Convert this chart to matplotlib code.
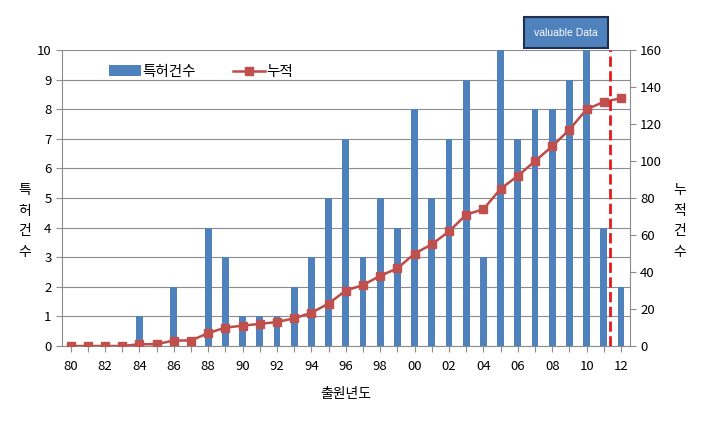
import matplotlib.pyplot as plt
import numpy as np

plt.rcParams['font.family'] = ['Noto Sans CJK KR', 'DejaVu Sans']

years = ['80', '81', '82', '83', '84', '85', '86', '87', '88', '89', '90', '91', '92', '93', '94', '95', '96',
         '97', '98', '99', '00', '01', '02', '03', '04', '05', '06', '07', '08', '09', '10', '11', '12']
patents = [0, 0, 0, 0, 1, 0, 2, 0, 4, 3, 1, 1, 1, 2, 3, 5, 7,
           3, 5, 4, 8, 5, 7, 9, 3, 11, 7, 8, 8, 9, 11, 4, 2]
cumulative = [0, 0, 0, 0, 1, 1, 3, 3, 7, 10, 11, 12, 13, 15, 18, 23, 30,
              33, 38, 42, 50, 55, 62, 71, 74, 85, 92, 100, 108, 117, 128, 132, 134]

bar_color = '#4F81BD'
line_color = '#BE4B48'

fig = plt.figure(figsize=(7.06, 4.21), dpi=100)
ax = fig.add_axes([0.0878, 0.178, 0.804, 0.703])
x = np.arange(len(years))

ax.bar(x, patents, width=0.4, color=bar_color, zorder=2, label='특허건수')
ax.set_ylim(0, 10)
ax.set_xlim(-0.5, len(years) - 0.5)
ax.set_yticks(range(0, 11))
ax.yaxis.grid(True, color='#8c8c8c', linewidth=0.8, zorder=0)
ax.set_axisbelow(True)
ax.set_xticks(x)
ax.set_xticklabels([y if i % 2 == 0 else '' for i, y in enumerate(years)])
ax.tick_params(axis='x', length=4, color='#8c8c8c', labelsize=9.5, pad=6)
ax.tick_params(axis='y', length=4, color='#8c8c8c', labelsize=9.5)
for s in ['top', 'right']:
    ax.spines[s].set_visible(False)
ax.spines['left'].set_color('#8c8c8c')
ax.spines['bottom'].set_color('#8c8c8c')

ax2 = ax.twinx()
ax2.plot(x, cumulative, color=line_color, marker='s', markersize=5.5, markerfacecolor='#C0504D',
         markeredgecolor='#C0504D', linewidth=1.8, label='누적', zorder=3)
ax2.set_ylim(0, 160)
ax2.set_yticks(range(0, 161, 20))
ax2.tick_params(axis='y', length=4, color='#8c8c8c', labelsize=9.5)
for s in ['top', 'left', 'bottom']:
    ax2.spines[s].set_visible(False)
ax2.spines['right'].set_color('#8c8c8c')

# cut-off line and note
ax2.axvline(31.35, color='#E41A1C', linestyle='--', linewidth=2, zorder=4)
ax2.text(28.8, 169.5, 'valuable Data', ha='center', va='center', fontsize=7.5, color='white',
         family=['Liberation Sans', 'DejaVu Sans'], zorder=5, clip_on=False,
         bbox=dict(boxstyle='square,pad=1.0', facecolor='#4F81BD', edgecolor='#1F2F4F', linewidth=1.5))

ax.set_xlabel('출원년도', fontsize=10, labelpad=10)
fig.text(0.035, 0.475, '특\n허\n건\n수', ha='center', va='center', fontsize=10, linespacing=1.6)
fig.text(0.963, 0.475, '누\n적\n건\n수', ha='center', va='center', fontsize=10, linespacing=1.6)

h1, l1 = ax.get_legend_handles_labels()
h2, l2 = ax2.get_legend_handles_labels()
ax2.legend(h1 + h2, l1 + l2, loc='upper left', bbox_to_anchor=(0.06, 0.995), ncol=2, frameon=False,
           fontsize=10.5, handlelength=2.2, columnspacing=2.5, handletextpad=0.1)

fig.savefig('out.png', dpi=100)
